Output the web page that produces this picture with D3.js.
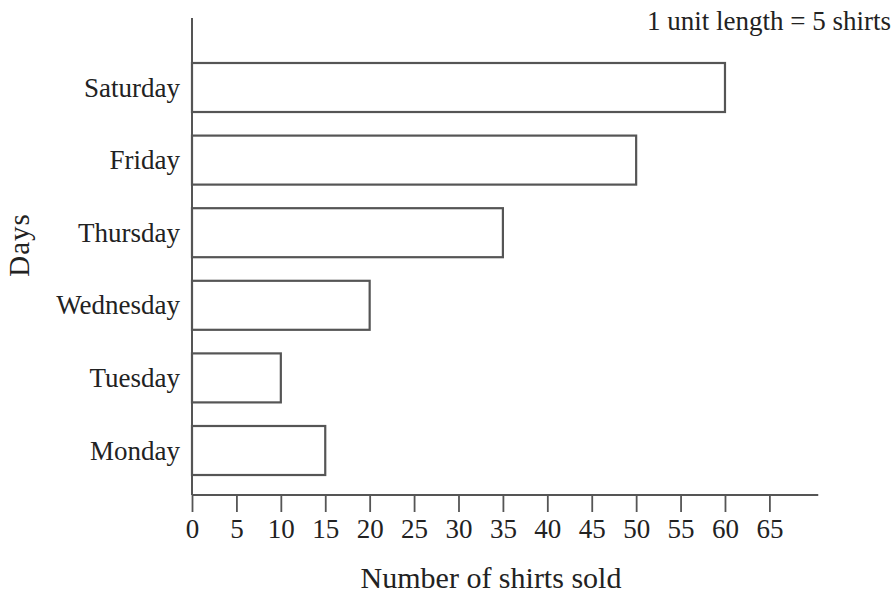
<!DOCTYPE html>
<html><head><meta charset="utf-8">
<script src="https://cdn.jsdelivr.net/npm/d3@7"></script>
<style>body{margin:0;background:#fff}svg{display:block}text{font-family:"Liberation Serif","DejaVu Serif",serif;fill:#222}</style>
</head><body><svg id="c" width="893" height="596"></svg>
<script>
const days = ["Monday","Tuesday","Wednesday","Thursday","Friday","Saturday"];
const shirts = [15,10,20,35,50,60];
const xTicks = [0,5,10,15,20,25,30,35,40,45,50,55,60,65];
const xTitle = "Number of shirts sold";
const yTitle = "Days";
const note = "1 unit length = 5 shirts";
const axisMax = 70.5;

const svg = d3.select("#c");
const x0 = 192, ppu = 8.883;
const x = d3.scaleLinear().domain([0, axisMax]).range([x0, x0 + axisMax*ppu]);
const y = d3.scaleBand().domain(days.slice().reverse()).range([51.2, 486.8]).paddingInner(0.325).paddingOuter(0.1625);
const yBase = 495;
const stroke = "#555";

svg.append("line").attr("x1", x(0)).attr("x2", x(0)).attr("y1", 18).attr("y2", yBase)
  .attr("stroke", stroke).attr("stroke-width", 2);

svg.selectAll("rect.bar").data(days).join("rect").attr("class","bar")
  .attr("x", x(0)).attr("y", d => y(d))
  .attr("width", (d,i) => x(shirts[i]) - x(0)).attr("height", y.bandwidth())
  .attr("fill", "#fff").attr("stroke", stroke).attr("stroke-width", 2.2);

const xa = svg.append("g").attr("transform", `translate(0,${yBase})`)
  .call(d3.axisBottom(x).tickValues(xTicks).tickSize(17).tickPadding(7).tickFormat(d3.format("d")));
xa.select(".domain").remove();
xa.selectAll(".tick line").attr("stroke", stroke).attr("stroke-width", 1.8);
xa.selectAll(".tick text").attr("font-size", 27).attr("font-family", "Liberation Serif").attr("fill", "#222");
svg.append("line").attr("x1", x(0)).attr("x2", x(axisMax)).attr("y1", yBase).attr("y2", yBase)
  .attr("stroke", stroke).attr("stroke-width", 2);

svg.selectAll("text.ylab").data(days).join("text").attr("class","ylab")
  .attr("x", x(0) - 12).attr("y", d => y(d) + y.bandwidth()/2)
  .attr("text-anchor", "end").attr("dominant-baseline", "central")
  .attr("font-size", 27).text(d => d);

svg.append("text").attr("x", 491).attr("y", 588).attr("text-anchor","middle").attr("font-size", 30).text(xTitle);
svg.append("text").attr("transform", "translate(29,245) rotate(-90)").attr("text-anchor","middle").attr("font-size", 29).attr("letter-spacing", 1).text(yTitle);
svg.append("text").attr("x", 891).attr("y", 30).attr("text-anchor","end").attr("font-size", 27).text(note);
</script></body></html>
